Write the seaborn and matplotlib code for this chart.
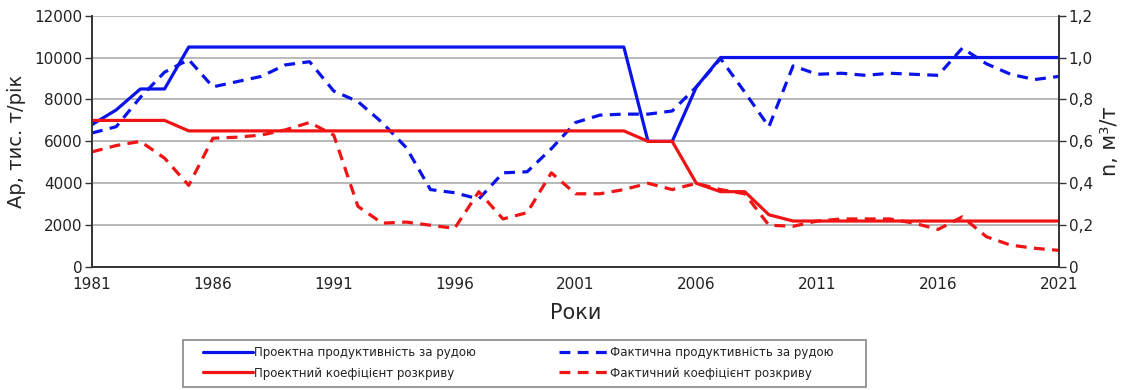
import matplotlib
matplotlib.use("Agg")
import matplotlib.pyplot as plt
from matplotlib.patches import Rectangle
import pandas as pd
import seaborn as sns

sns.set_style("white")
plt.rcParams['font.family'] = ['DejaVu Sans']

# ---------------------
# Data
# ---------------------
years = list(range(1981, 2022))

# Ар, тис. т/рік
design_output = [6800, 7500, 8500, 8500, 10500, 10500, 10500, 10500, 10500, 10500,
                 10500, 10500, 10500, 10500, 10500, 10500, 10500, 10500, 10500, 10500,
                 10500, 10500, 10500, 6000, 6000, 8600, 10000, 10000, 10000, 10000,
                 10000, 10000, 10000, 10000, 10000, 10000, 10000, 10000, 10000, 10000,
                 10000]
actual_output = [6400, 6700, 8100, 9300, 9900, 8600, 8850, 9100, 9650, 9800,
                 8400, 7900, 6900, 5700, 3700, 3550, 3250, 4500, 4550, 5650,
                 6900, 7250, 7300, 7300, 7450, 8600, 9950, 8350, 6700, 9600,
                 9200, 9250, 9150, 9250, 9200, 9150, 10450, 9700, 9200, 8950,
                 9100]

# n, м3/т
design_ratio = [0.70, 0.70, 0.70, 0.70, 0.65, 0.65, 0.65, 0.65, 0.65, 0.65,
                0.65, 0.65, 0.65, 0.65, 0.65, 0.65, 0.65, 0.65, 0.65, 0.65,
                0.65, 0.65, 0.65, 0.60, 0.60, 0.40, 0.36, 0.36, 0.25, 0.22,
                0.22, 0.22, 0.22, 0.22, 0.22, 0.22, 0.22, 0.22, 0.22, 0.22,
                0.22]
actual_ratio = [0.55, 0.58, 0.60, 0.52, 0.39, 0.615, 0.62, 0.63, 0.655, 0.69,
                0.63, 0.29, 0.21, 0.215, 0.20, 0.185, 0.36, 0.23, 0.26, 0.45,
                0.35, 0.35, 0.37, 0.40, 0.37, 0.40, 0.37, 0.35, 0.20, 0.195,
                0.22, 0.23, 0.23, 0.23, 0.21, 0.18, 0.24, 0.145, 0.105, 0.09,
                0.08]

labels = ['Проектна продуктивність за рудою',
          'Фактична продуктивність за рудою',
          'Проектний коефіцієнт розкриву',
          'Фактичний коефіцієнт розкриву']

df = pd.DataFrame({'year': years,
                   'design_output': design_output,
                   'actual_output': actual_output,
                   'design_ratio': design_ratio,
                   'actual_ratio': actual_ratio})

# ---------------------
# Plot
# ---------------------
blue = '#0a14ea'
red = '#f01414'
dash = (0, (3.4, 2.3))

fig, ax = plt.subplots(figsize=(11.29, 3.9), dpi=100)
fig.subplots_adjust(left=0.0815, right=0.938, top=0.96, bottom=0.315)
ax2 = ax.twinx()

sns.lineplot(data=df, x='year', y='design_output', ax=ax, color=blue, linewidth=2.3, label=labels[0])
sns.lineplot(data=df, x='year', y='actual_output', ax=ax, color=blue, linewidth=2.3, linestyle=dash, label=labels[1])
sns.lineplot(data=df, x='year', y='design_ratio', ax=ax2, color=red, linewidth=2.3, label=labels[2])
sns.lineplot(data=df, x='year', y='actual_ratio', ax=ax2, color=red, linewidth=2.3, linestyle=dash, label=labels[3])

ax.set_xlim(1981, 2021)
ax.set_ylim(0, 12000)
ax2.set_ylim(0, 1.2)
ax.set_xticks(range(1981, 2022, 5))
ax.set_xticks(range(1981, 2022), minor=True)
ax.set_yticks(range(0, 12001, 2000))
ax2.set_yticks([0, 0.2, 0.4, 0.6, 0.8, 1.0, 1.2])
ax2.set_yticklabels(['0' if v == 0 else f'{v:.1f}'.replace('.', ',') for v in ax2.get_yticks()])

ax.yaxis.grid(True, color='#a5a5a5', linewidth=1.1)
ax.set_axisbelow(True)

for a in (ax, ax2):
    a.spines['top'].set_visible(False)
    for s in ('left', 'right', 'bottom'):
        a.spines[s].set_color('#333333')
        a.spines[s].set_linewidth(1.2)
    a.tick_params(axis='both', which='major', direction='out', length=5, width=1,
                  color='#333333', labelsize=11, labelcolor='#222222', pad=2)
    a.tick_params(axis='x', which='minor', direction='out', length=4, width=1, color='#333333')

ax.set_xlabel('Роки', fontsize=15, labelpad=8)
ax.set_ylabel('Ар, тис. т/рік', fontsize=14, labelpad=6)
ax2.set_ylabel('n, м³/т', fontsize=15, labelpad=5)

# legend under the plot
h1, l1 = ax.get_legend_handles_labels()
h2, l2 = ax2.get_legend_handles_labels()
ax.get_legend().remove()
ax2.get_legend().remove()
handles = [h1[0], h2[0], h1[1], h2[1]]
names = [l1[0], l2[0], l1[1], l2[1]]
leg = fig.legend(handles, names, loc='center left', bbox_to_anchor=(203 / 1129, 1 - 363 / 390),
                 ncol=2, fontsize=8.5, handlelength=4.2, handletextpad=0.1,
                 columnspacing=7.1, labelspacing=0.6, frameon=False,
                 borderpad=0, borderaxespad=0)
for t in leg.get_texts():
    t.set_color('#222222')

# legend frame (wider than the entries, as in the original)
fig.patches.append(Rectangle((183 / 1129, 3 / 390), 683 / 1129, 47 / 390,
                             transform=fig.transFigure, fill=False,
                             edgecolor='#888888', linewidth=1.2))

plt.savefig('out.png', dpi=100)
